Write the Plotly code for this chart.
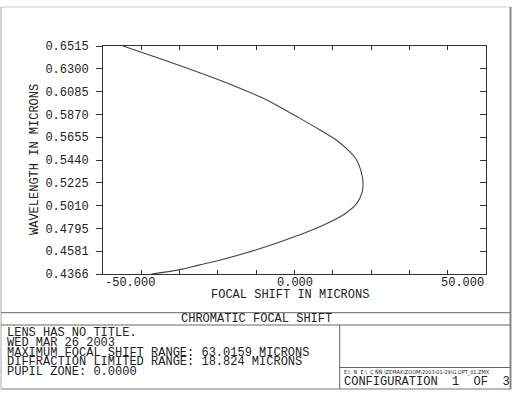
import plotly.graph_objects as go
import numpy as np

# ---- data ----
wavelength = [0.4366, 0.4407, 0.4450, 0.4491, 0.4595, 0.4736, 0.4814, 0.4924,
              0.5034, 0.5130, 0.5225, 0.5330, 0.5447, 0.5540, 0.5629, 0.5723,
              0.5850, 0.5974, 0.6036, 0.6120, 0.6300, 0.6515]
focal_shift = [-37.3, -29.9, -25.0, -20.1, -9.9, 1.4, 6.7, 12.8,
               16.3, 17.6, 17.9, 17.4, 16.1, 13.8, 10.9, 6.7,
               0.6, -5.5, -9.0, -14.4, -27.6, -44.8]

y_tick_labels = ["0.4366", "0.4581", "0.4795", "0.5010", "0.5225", "0.5440",
                 "0.5655", "0.5870", "0.6085", "0.6300", "0.6515"]
x_tick_vals = [-50, -40, -30, -20, -10, 0, 10, 20, 30, 40, 50]
x_label_vals = [-50, 0, 50]
x_label_text = ["-50.000", "0.000", "50.000"]

info_lines = ["LENS HAS NO TITLE.",
              "WED MAR 26 2003",
              "MAXIMUM FOCAL SHIFT RANGE: 63.0159 MICRONS",
              "DIFFRACTION LIMITED RANGE: 18.824 MICRONS",
              "PUPIL ZONE: 0.0000"]

W, H = 518, 393
ML, MR, MT, MB = 103, 32, 46, 119
PW, PH = W - ML - MR, H - MT - MB

def px(x):
    return (x - ML) / PW

def py(y):
    return (H - MB - y) / PH

FONT = "Liberation Mono"
INK = "#333333"

y_tick_vals = list(np.linspace(0.4366, 0.6515, 11))

fig = go.Figure()
fig.add_trace(go.Scatter(x=focal_shift, y=wavelength, mode="lines",
                         line=dict(color="#444444", width=1.1, shape="spline",
                                   smoothing=1.0),
                         hoverinfo="skip", showlegend=False))
fig.add_trace(go.Scatter(x=focal_shift, y=wavelength, mode="lines",
                         xaxis="x2", yaxis="y2",
                         line=dict(color="rgba(0,0,0,0)", width=0),
                         hoverinfo="skip", showlegend=False))

axis_common = dict(showgrid=False, zeroline=False, showline=True,
                   linecolor=INK, linewidth=1, tickcolor=INK, tickwidth=1)

fig.update_layout(
    width=W, height=H,
    margin=dict(l=ML, r=MR, t=MT, b=MB),
    paper_bgcolor="white", plot_bgcolor="white",
    font=dict(family=FONT, size=12, color="#222222"),
    xaxis=dict(range=[-50, 50], tickvals=x_tick_vals, ticks="inside", ticklen=4,
               showticklabels=False, **axis_common),
    xaxis2=dict(range=[-50, 50], tickvals=x_tick_vals, ticks="inside", ticklen=4,
                showticklabels=False, overlaying="x", side="top", **axis_common),
    yaxis=dict(range=[0.4366, 0.6515], tickvals=y_tick_vals, ticktext=y_tick_labels,
               ticks="outside", ticklen=6, ticklabelstandoff=5, **axis_common),
    yaxis2=dict(range=[0.4366, 0.6515], tickvals=y_tick_vals, overlaying="y",
                side="right", ticks="inside", ticklen=6, showticklabels=False,
                **axis_common),
)

ann = []
for v, t, a in zip(x_label_vals, x_label_text, ["left", "center", "right"]):
    ann.append(dict(x=v, xref="x", y=py(282.7), yref="paper", text=t,
                    xanchor=a, yanchor="middle", showarrow=False))
ann.append(dict(x=px(290), xref="paper", y=py(294.5), yref="paper",
                text="FOCAL SHIFT IN MICRONS", showarrow=False,
                xanchor="center", yanchor="middle"))
ann.append(dict(x=px(35), xref="paper", y=py(160), yref="paper",
                text="WAVELENGTH IN MICRONS", showarrow=False, textangle=-90,
                xanchor="center", yanchor="middle"))
ann.append(dict(x=px(256), xref="paper", y=py(319), yref="paper",
                text="CHROMATIC FOCAL SHIFT", showarrow=False,
                xanchor="center", yanchor="middle"))
for i, t in enumerate(info_lines):
    ann.append(dict(x=px(5), xref="paper", y=py(333.5 + 9.6 * i), yref="paper",
                    text=t, showarrow=False, xanchor="left", yanchor="middle"))
ann.append(dict(x=px(342), xref="paper", y=py(372), yref="paper",
                text="E:\\  N  E \\  Ç ÑÑ \\ZEMAX\\ZOOM\\2003-01-29\\G.OPT_01.ZMX",
                showarrow=False, xanchor="left", yanchor="middle",
                font=dict(family="DejaVu Sans Condensed", size=5.5, color="#222222")))
ann.append(dict(x=px(342), xref="paper", y=py(381.5), yref="paper",
                text="CONFIGURATION  1  OF  3", showarrow=False,
                xanchor="left", yanchor="middle"))
fig.update_layout(annotations=ann)

shapes = []
def line(x0, y0, x1, y1, color="#555555", width=1):
    shapes.append(dict(type="line", xref="paper", yref="paper",
                       x0=px(x0), y0=py(y0), x1=px(x1), y1=py(y1),
                       line=dict(color=color, width=width)))

# outer frame
line(1, 7, 510, 7, "#cccccc")
line(1, 7, 1, 389, "#aaaaaa")
line(510.5, 7, 510.5, 389.5, "#888888", 2)
line(1, 389, 510, 389, "#777777")
# bottom panel
line(1, 312.7, 510, 312.7, "#666666")
line(1, 325, 510, 325, "#666666")
line(339.7, 325, 339.7, 389, "#666666")
line(339.7, 367.5, 510, 367.5, "#666666")
fig.update_layout(shapes=shapes)

fig.write_html("out.html")
